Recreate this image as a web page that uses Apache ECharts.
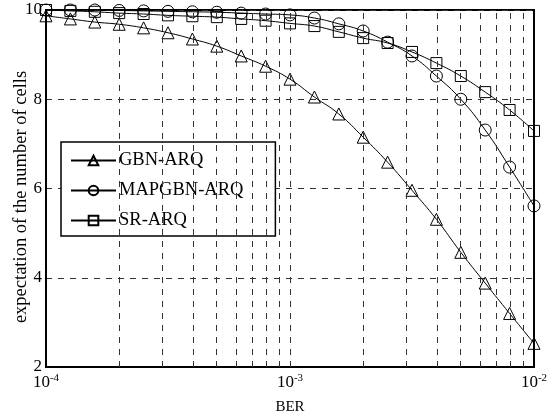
<!DOCTYPE html>
<html>
<head>
<meta charset="utf-8">
<script src="https://cdn.jsdelivr.net/npm/echarts@6/dist/echarts.min.js"></script>
<style>
  html, body { margin: 0; padding: 0; background: #fff; }
  #chart { width: 557px; height: 414px; }
</style>
</head>
<body>
<div id="chart"></div>
<script>
// BER points, 10 per decade
const ber = [1e-4, 1.259e-4, 1.585e-4, 1.995e-4, 2.512e-4, 3.162e-4, 3.981e-4, 5.012e-4, 6.310e-4, 7.943e-4,
    1e-3, 1.259e-3, 1.585e-3, 1.995e-3, 2.512e-3, 3.162e-3, 3.981e-3, 5.012e-3, 6.310e-3, 7.943e-3, 1e-2];
const gbn = [9.87, 9.8, 9.73, 9.68, 9.6, 9.49, 9.35, 9.19, 8.97, 8.74,
    8.45, 8.05, 7.67, 7.15, 6.59, 5.96, 5.31, 4.57, 3.88, 3.2, 2.53];
const mapgbn = [10.0, 10.0, 10.0, 9.99, 9.98, 9.97, 9.96, 9.95, 9.93, 9.91,
    9.89, 9.82, 9.69, 9.53, 9.28, 8.97, 8.52, 8.0, 7.31, 6.48, 5.61];
const sr = [10.0, 9.98, 9.96, 9.93, 9.91, 9.88, 9.86, 9.84, 9.8, 9.76,
    9.7, 9.64, 9.51, 9.37, 9.26, 9.06, 8.81, 8.52, 8.16, 7.76, 7.29];
const gridX = [2e-4, 3e-4, 4e-4, 5e-4, 6e-4, 7e-4, 8e-4, 9e-4, 1e-3,
    2e-3, 3e-3, 4e-3, 5e-3, 6e-3, 7e-3, 8e-3, 9e-3];
const yMin = 2, yMax = 10;

const font = "Liberation Serif";
const dash = { type: [6, 6], color: "#333", width: 1 };

function make_series(name, values, symbol, size) {
    return {
        name: name,
        type: "line",
        smooth: true,
        data: ber.map((x, i) => [x, values[i]]),
        symbol: symbol,
        symbolSize: size,
        lineStyle: { color: "#000", width: 1 },
        itemStyle: { color: "rgba(255,255,255,0)", borderColor: "#000", borderWidth: 1 },
        z: 3,
    };
}

function render_chart() {
    const chart = echarts.init(document.getElementById("chart"));
    const series = [
        make_series("GBN-ARQ", gbn, "triangle", 12),
        make_series("MAPGBN-ARQ", mapgbn, "circle", 12),
        make_series("SR-ARQ", sr, "rect", 11),
    ];
    // vertical dashed grid at every decade subdivision
    series[0].markLine = {
        silent: true,
        symbol: ["none", "none"],
        label: { show: false },
        lineStyle: dash,
        animation: false,
        data: gridX.map((x) => [{ coord: [x, yMin] }, { coord: [x, yMax] }]),
    };

    chart.setOption({
        animation: false,
        backgroundColor: "#fff",
        grid: {
            left: 46, right: 23, top: 10, bottom: 47,
            containLabel: false, outerBoundsMode: "none",
            show: true, borderColor: "#000", borderWidth: 2, backgroundColor: "transparent",
        },
        xAxis: {
            type: "log",
            logBase: 10,
            min: 1e-4,
            max: 1e-2,
            name: "BER",
            nameLocation: "middle",
            nameGap: 33,
            nameMoveOverlap: false,
            nameTextStyle: { fontFamily: font, fontSize: 15, color: "#000" },
            axisLine: { lineStyle: { color: "#000", width: 2 } },
            axisTick: { show: false },
            splitLine: { show: false },
            axisLabel: {
                margin: 6,
                formatter: (v) => "{b|10}{s|" + Math.round(Math.log10(v)) + "}",
                rich: {
                    b: { fontFamily: font, fontSize: 17, color: "#000" },
                    s: { fontFamily: font, fontSize: 11, color: "#000", padding: [0, 0, 9, 0] },
                },
            },
        },
        yAxis: {
            type: "value",
            min: yMin,
            max: yMax,
            interval: 2,
            name: "expectation of the number of cells",
            nameLocation: "middle",
            nameGap: 15,
            nameMoveOverlap: false,
            nameTextStyle: { fontFamily: font, fontSize: 18.5, color: "#000", padding: [0, 17, 0, 0] },
            axisLine: { lineStyle: { color: "#000", width: 2 } },
            axisTick: { show: false },
            splitLine: { show: true, lineStyle: dash },
            axisLabel: { fontFamily: font, fontSize: 17, color: "#000", margin: 4 },
        },
        legend: {
            orient: "vertical",
            left: 61,
            top: 142,
            padding: [9, 32, 6, 9],
            itemGap: 11,
            itemWidth: 45,
            itemHeight: 12,
            backgroundColor: "#fff",
            borderColor: "#000",
            borderWidth: 1.5,
            borderRadius: 0,
            textStyle: { fontFamily: font, fontSize: 18.5, color: "#000", padding: [0, 0, 0, -2] },
            data: ["GBN-ARQ", "MAPGBN-ARQ", "SR-ARQ"],
        },
        series: series,
    });
}

window.addEventListener("load", render_chart);
</script>
</body>
</html>
